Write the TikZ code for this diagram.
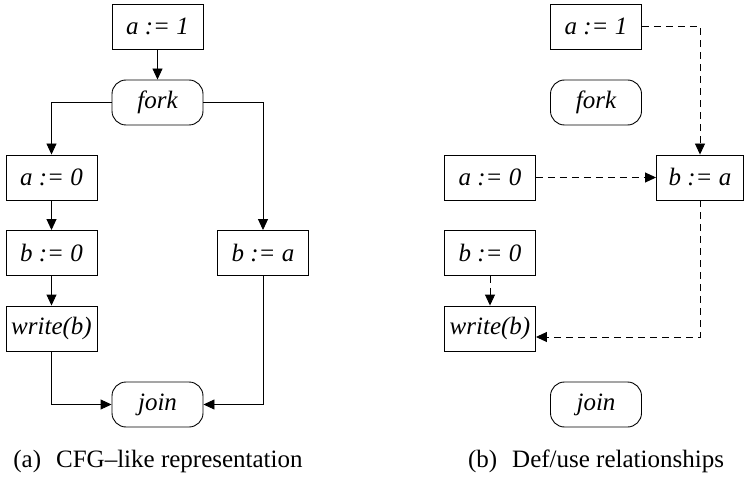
\documentclass[tikz,border=0pt]{standalone}
\usepackage{fontspec}
\setmainfont{Liberation Serif}
\usetikzlibrary{arrows.meta,calc}
\begin{document}
\begin{tikzpicture}[x=1pt,y=1pt,
  every node/.style={font=\fontsize{25}{29}\selectfont},
  stmt/.style={draw,line width=0.9pt,minimum width=91pt,minimum height=45pt,inner sep=0pt,font=\fontsize{25}{29}\selectfont\itshape},
  ctl/.style={stmt,rounded corners=14pt},
  flow/.style={line width=0.9pt,-{Triangle[length=11pt,width=10pt]}},
  defuse/.style={flow,dash pattern=on 7pt off 5pt},
  captext/.style={font=\fontsize{25}{29}\selectfont}
]
\useasboundingbox (0,0) rectangle (744,-497);
% (a)
\node[stmt] (a1) at (157.5,-26.5) {a := 1};
\node[ctl] (fk) at (157.5,-102.5) {fork};
\node[stmt] (a0) at (51.5,-177.5) {a := 0};
\node[stmt] (b0) at (51.5,-253) {b := 0};
\node[stmt] (wr) at (51.5,-328.5) {write(b)};
\node[stmt] (ba) at (263,-253) {b := a};
\node[ctl] (jn) at (157.5,-404.5) {join};
\draw[flow] (a1) -- (fk);
\draw[flow] (fk.west) -| (a0.north);
\draw[flow] (fk.east) -| (ba.north);
\draw[flow] (a0) -- (b0);
\draw[flow] (b0) -- (wr);
\draw[flow] (wr.south) |- (jn.west);
\draw[flow] (ba.south) |- (jn.east);
\node[captext] (capa) at (158,-461) {(a)\hspace{0.6em}CFG–like representation};
% (b)
\node[stmt] (ra1) at (596,-26.5) {a := 1};
\node[ctl] (rfk) at (596,-102.5) {fork};
\node[stmt] (ra0) at (490,-177.5) {a := 0};
\node[stmt] (rb0) at (490,-253) {b := 0};
\node[stmt] (rwr) at (490,-328.5) {write(b)};
\node[stmt,minimum width=87pt] (rba) at (700,-177.5) {b := a};
\node[ctl] (rjn) at (596,-404.5) {join};
\coordinate (rwin) at ($(rwr.east)+(0,-8.5)$);
\draw[defuse] (ra1.east) -| (rba.north);
\draw[defuse] (ra0.east) -- (rba.west);
\draw[defuse] (rb0.south) -- (rwr.north);
\draw[defuse] (rba.south) |- (rwin);
\node[captext] (capb) at (596,-461) {(b)\hspace{0.6em}Def/use relationships};
\end{tikzpicture}
\end{document}
